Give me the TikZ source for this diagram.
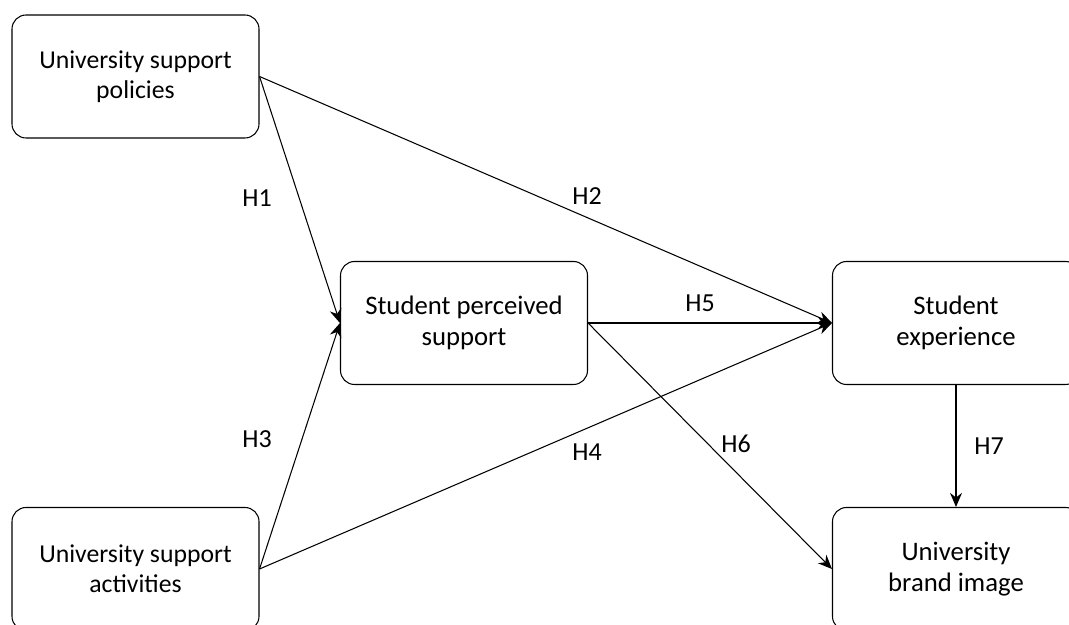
\documentclass[tikz,border=0pt]{standalone}
\usepackage{fontspec}
\setmainfont{Carlito}
\usetikzlibrary{arrows.meta,positioning}
\tikzset{
  var/.style={draw, rounded corners=10pt, line width=0.75pt, align=center, minimum width=6.175cm, minimum height=3.075cm, inner sep=0pt},
  srcvar/.style={var, font=\fontsize{18.3}{21.3}\selectfont},
  keyvar/.style={var, font=\fontsize{19}{22}\selectfont},
  hyp/.style={font=\fontsize{18.5}{20}\selectfont, inner sep=0pt},
  link/.style={-{Stealth[length=10pt,width=8.5pt]}, line width=0.75pt}
}

\begin{document}
\begin{tikzpicture}[x=1cm,y=1cm]
  \useasboundingbox (0,0) rectangle (26.725,15.625);
  % constructs
  \node[srcvar] (pol) at (3.3875,13.7125) {University support\\policies};
  \node[srcvar] (act) at (3.3875,1.4) {University support\\activities};
  \node[keyvar] (sps) at (11.6,7.55) {Student perceived\\support};
  \node[keyvar] (exp) at (23.9,7.55) {Student\\experience};
  \node[keyvar] (img) at (23.9,1.4) {University\\brand image};
  % paths
  \draw[link] (pol.east) -- (sps.west);
  \draw[link] (act.east) -- (sps.west);
  \draw[link] (pol.east) -- (exp.west);
  \draw[link] (act.east) -- (exp.west);
  \draw[link] (sps.east) -- (exp.west);
  \draw[link] (sps.east) -- (img.west);
  \draw[link] (exp.south) -- (img.north);
  % hypotheses
  \node[hyp] (h1) at (6.425,10.675) {H1};
  \node[hyp] (h2) at (14.675,10.725) {H2};
  \node[hyp] (h3) at (6.425,4.65) {H3};
  \node[hyp] (h4) at (14.675,4.325) {H4};
  \node[hyp] (h5) at (17.5,8.05) {H5};
  \node[hyp] (h6) at (18.4,4.525) {H6};
  \node[hyp] (h7) at (24.725,4.475) {H7};
\end{tikzpicture}
\end{document}
